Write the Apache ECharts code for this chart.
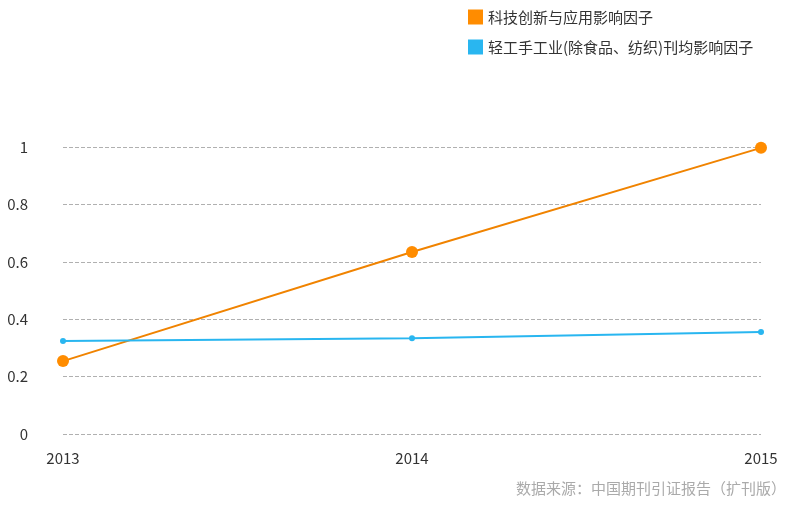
<!DOCTYPE html>
<html><head><meta charset="utf-8">
<script src="https://cdn.jsdelivr.net/npm/echarts@6/dist/echarts.min.js"></script>
<style>html,body{margin:0;padding:0;background:#fff}#c{width:790px;height:505px}</style>
</head><body><div id="c"></div>
<script>
var years = ['2013', '2014', '2015'];
var techValues = [0.254, 0.634, 0.997];
var lightValues = [0.324, 0.334, 0.355];
var seriesNames = ['科技创新与应用影响因子', '轻工手工业(除食品、纺织)刊均影响因子'];
var yTicks = [0, 0.2, 0.4, 0.6, 0.8, 1];
var sourceText = '数据来源：中国期刊引证报告（扩刊版）';

var chart = echarts.init(document.getElementById('c'));
var ff = '"Noto Sans CJK SC", "Noto Sans", sans-serif';
chart.setOption({
  animation: false,
  textStyle: {fontFamily: ff},
  legend: {
    orient: 'vertical', left: 463, top: 2, itemGap: 10,
    itemWidth: 15, itemHeight: 15, icon: 'rect',
    textStyle: {fontSize: 15, color: '#333', fontFamily: ff, lineHeight: 20},
    data: seriesNames
  },
  graphic: [{
    type: 'text', right: 4, top: 481,
    style: {text: sourceText, fill: '#aaa', fontSize: 15, fontFamily: ff}
  }],
  grid: {left: 63, right: 29, top: 147, bottom: 71},
  xAxis: {
    type: 'category', data: years, boundaryGap: false,
    axisLine: {show: false}, axisTick: {show: false},
    axisLabel: {color: '#333', fontSize: 15, margin: 17}
  },
  yAxis: {
    type: 'value', min: yTicks[0], max: yTicks[yTicks.length - 1], interval: 0.2,
    axisLine: {show: false}, axisTick: {show: false},
    axisLabel: {color: '#333', fontSize: 15, margin: 35},
    splitLine: {lineStyle: {type: 'dashed', color: '#b0b0b0'}}
  },
  series: [{
    name: seriesNames[0], type: 'line', data: techValues,
    symbol: 'circle', symbolSize: 12,
    itemStyle: {color: '#ff8c00'},
    lineStyle: {color: '#f08300', width: 2}
  }, {
    name: seriesNames[1], type: 'line', data: lightValues,
    symbol: 'circle', symbolSize: 6,
    itemStyle: {color: '#29b6f0'},
    lineStyle: {color: '#29b6f0', width: 2}
  }]
});
</script></body></html>
